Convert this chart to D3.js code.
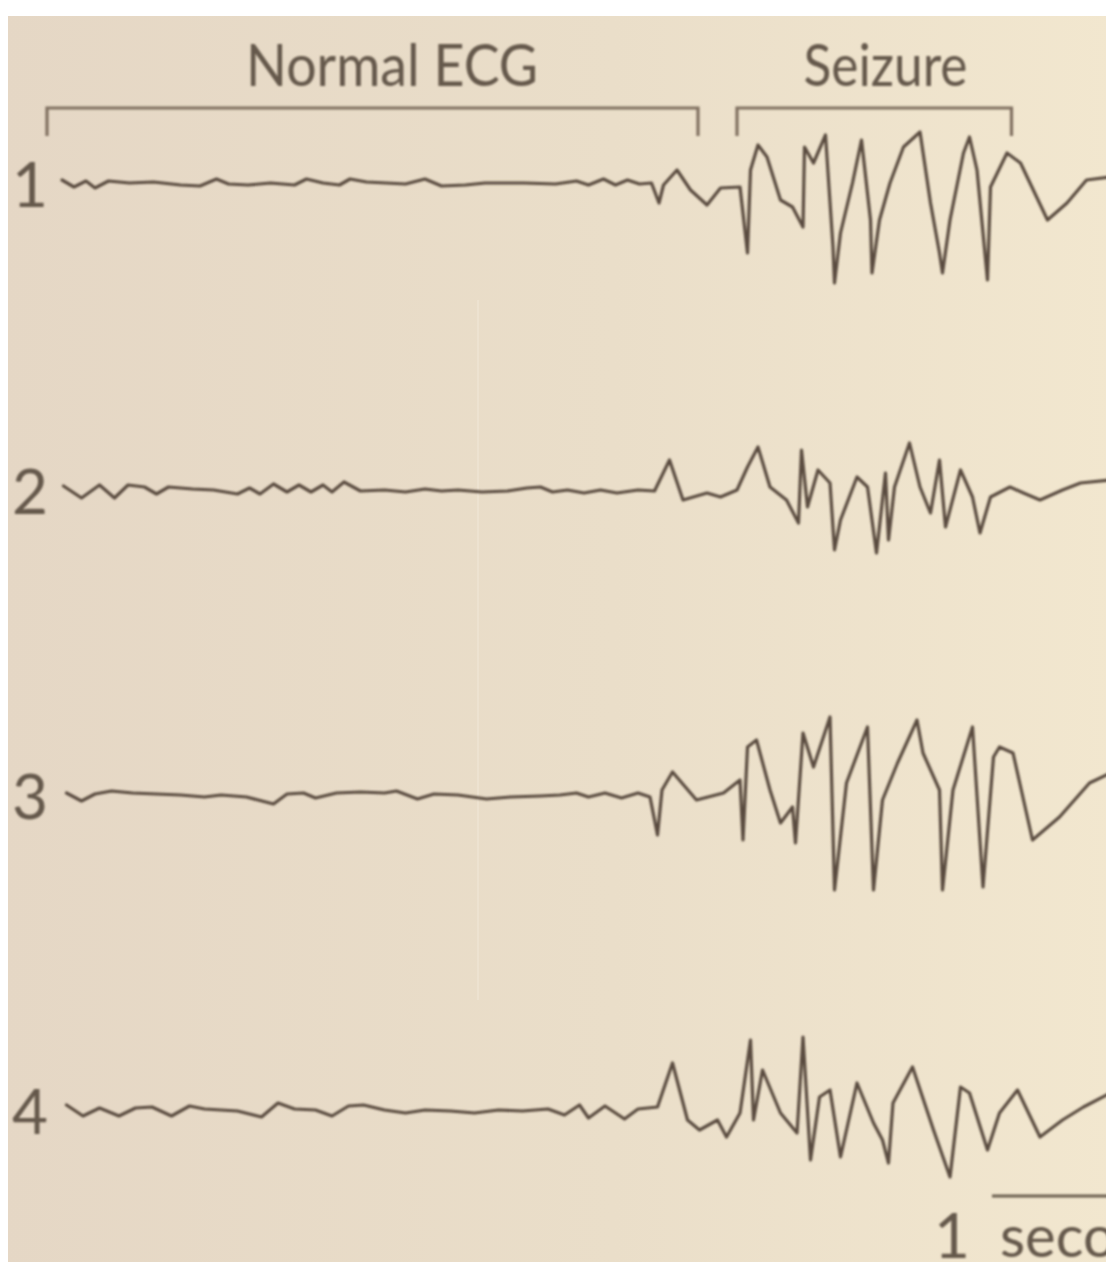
<!DOCTYPE html>
<html>
<head>
<meta charset="utf-8">
<title>Normal ECG / Seizure</title>
<style>
body { margin: 0; background: #ffffff; }
svg { display: block; }
</style>
</head>
<body>
<svg width="1114" height="1276"></svg>
<script src="https://d3js.org/d3.v7.min.js"></script>
<script>
// channel labels down the left side
var channels = ["1", "2", "3", "4"];

// section brackets along the top (time in seconds)
var sections = ["Normal ECG", "Seizure"];
var sectionStart = [-0.1, 4.5];
var sectionEnd = [4.24, 6.33];
var sectionLabelAt = [2.2, 5.49];

// traces: [time (s), amplitude]
var trace1 = [[0,3],[0.08,-4],[0.16,2],[0.22,-5],[0.31,2],[0.45,0],[0.61,1],[0.79,-2],[0.92,-3],[1.03,4],[1.11,-1],[1.24,-2],[1.39,0],[1.55,-2],[1.63,4],[1.74,0],[1.85,-2],[1.92,4],[2.03,1],[2.16,0],[2.29,-1],[2.42,4],[2.53,-3],[2.69,-2],[2.82,0],[3.08,0],[3.29,-1],[3.43,2],[3.51,-2],[3.61,4],[3.69,-2],[3.77,3],[3.85,-1],[3.93,0],[3.98,-20],[4.01,-2],[4.10,13],[4.19,-7],[4.30,-22],[4.39,-5],[4.52,-4],[4.57,-70],[4.59,13],[4.64,38],[4.70,26],[4.79,-17],[4.87,-24],[4.94,-44],[4.95,36],[5.01,20],[5.09,48],[5.14,-64],[5.15,-100],[5.19,-50],[5.27,0],[5.33,43],[5.39,-37],[5.40,-90],[5.45,-37],[5.52,0],[5.61,36],[5.72,51],[5.79,-20],[5.85,-70],[5.87,-90],[5.92,-37],[6.01,30],[6.05,46],[6.10,13],[6.17,-97],[6.19,-4],[6.30,30],[6.39,20],[6.57,-37],[6.70,-20],[6.83,3],[6.99,6]];
var trace2 = [[0.01,4],[0.13,-8],[0.25,5],[0.35,-8],[0.44,5],[0.55,3],[0.63,-4],[0.71,3],[0.87,1],[1.01,0],[1.17,-4],[1.25,2],[1.32,-4],[1.41,6],[1.50,-2],[1.58,5],[1.66,-2],[1.74,5],[1.80,-2],[1.88,8],[1.99,-1],[2.15,0],[2.29,-2],[2.42,1],[2.53,-1],[2.64,0],[2.80,-2],[2.97,-1],[3.10,2],[3.19,3],[3.27,-2],[3.37,0],[3.48,-3],[3.59,0],[3.70,-3],[3.84,0],[3.95,-1],[4.05,30],[4.14,-10],[4.30,-3],[4.39,-7],[4.50,0],[4.57,23],[4.64,43],[4.72,3],[4.83,-10],[4.91,-33],[4.93,40],[4.97,-17],[5.04,20],[5.12,7],[5.15,-60],[5.19,-30],[5.30,13],[5.37,3],[5.43,-63],[5.49,17],[5.51,-50],[5.55,3],[5.65,47],[5.72,3],[5.79,-23],[5.85,30],[5.89,-37],[5.99,20],[6.07,-7],[6.12,-43],[6.19,-7],[6.32,3],[6.41,-3],[6.52,-10],[6.67,0],[6.79,7],[6.99,10]];
var trace3 = [[0.03,2],[0.13,-6],[0.22,1],[0.33,4],[0.47,2],[0.63,1],[0.79,0],[0.95,-2],[1.06,0],[1.23,-2],[1.41,-9],[1.50,1],[1.61,2],[1.69,-3],[1.83,2],[1.99,3],[2.15,2],[2.23,4],[2.37,-4],[2.48,1],[2.64,0],[2.83,-4],[2.99,-2],[3.19,-1],[3.32,0],[3.43,2],[3.51,-2],[3.62,2],[3.73,-3],[3.84,2],[3.92,-2],[3.97,-40],[4.00,5],[4.07,23],[4.23,-5],[4.41,2],[4.52,15],[4.54,-45],[4.57,48],[4.63,55],[4.72,5],[4.79,-28],[4.87,-12],[4.89,-48],[4.94,62],[5.01,28],[5.12,78],[5.15,-95],[5.23,12],[5.37,68],[5.41,-95],[5.47,-5],[5.57,32],[5.67,65],[5.70,75],[5.74,42],[5.85,5],[5.87,-95],[5.94,5],[6.07,68],[6.14,-92],[6.21,38],[6.25,48],[6.34,42],[6.47,-45],[6.65,-22],[6.85,12],[6.99,22]];
var trace4 = [[0.03,5],[0.14,-6],[0.25,2],[0.38,-6],[0.49,2],[0.60,3],[0.73,-6],[0.85,4],[0.95,1],[1.06,0],[1.17,-1],[1.33,-7],[1.44,7],[1.55,1],[1.69,0],[1.80,-6],[1.91,4],[2.01,5],[2.15,0],[2.29,-3],[2.42,0],[2.59,-1],[2.75,-3],[2.91,0],[3.07,-1],[3.24,1],[3.35,-5],[3.45,5],[3.51,-8],[3.62,4],[3.75,-9],[3.84,1],[3.97,3],[4.07,47],[4.17,-10],[4.25,-20],[4.37,-10],[4.43,-27],[4.52,-3],[4.59,70],[4.61,-10],[4.67,40],[4.79,-3],[4.90,-23],[4.94,73],[4.99,-50],[5.05,13],[5.12,20],[5.19,-47],[5.30,27],[5.41,-13],[5.47,-30],[5.51,-53],[5.54,7],[5.67,43],[5.81,-20],[5.92,-67],[5.99,23],[6.05,17],[6.17,-40],[6.25,-3],[6.37,20],[6.52,-27],[6.67,-10],[6.81,3],[6.99,17]];

// 1 second scale bar
var scaleBarStart = 6.2;
var scaleBarLength = 1;

var traces = [trace1, trace2, trace3, trace4];
var baselines = [183, 490, 795, 1110];

var ink = "#5a4c3f";
var svg = d3.select("svg");
var defs = svg.append("defs");

// paper colour, a bit pinker on the left and yellower on the right
var grad = defs.append("linearGradient").attr("id", "paper")
    .attr("x1", 0).attr("x2", 1).attr("y1", 0).attr("y2", 0);
grad.append("stop").attr("offset", "0%").attr("stop-color", "#e5d7c5");
grad.append("stop").attr("offset", "55%").attr("stop-color", "#eadec9");
grad.append("stop").attr("offset", "100%").attr("stop-color", "#f2e7cf");

defs.append("clipPath").attr("id", "page")
  .append("rect").attr("x", 8).attr("y", 16).attr("width", 1098).attr("height", 1246);

defs.append("filter").attr("id", "soft")
  .append("feGaussianBlur").attr("stdDeviation", 0.8);

var page = svg.append("g").attr("clip-path", "url(#page)");

page.append("rect")
    .attr("x", 0).attr("y", 0).attr("width", 1114).attr("height", 1276)
    .attr("fill", "url(#paper)");

// faint fold line in the paper
page.append("line")
    .attr("x1", 478).attr("x2", 478).attr("y1", 300).attr("y2", 1000)
    .attr("stroke", "#f3eadb").attr("stroke-width", 2).attr("opacity", 0.45);

var x = d3.scaleLinear().domain([0, 7]).range([62, 1112]);

var ink_g = page.append("g").attr("filter", "url(#soft)");

// brackets and section titles
sections.forEach(function(name, i) {
    var x0 = x(sectionStart[i]), x1 = x(sectionEnd[i]);
    ink_g.append("path")
        .attr("d", "M" + x0 + ",136V108H" + x1 + "V136")
        .attr("fill", "none")
        .attr("stroke", "#807061")
        .attr("stroke-width", 3.2);
    ink_g.append("text")
        .attr("x", x(sectionLabelAt[i]))
        .attr("y", 86)
        .attr("text-anchor", "middle")
        .attr("font-family", "Lato, 'Open Sans', sans-serif")
        .attr("font-size", 58)
        .attr("textLength", i == 0 ? 292 : 164)
        .attr("lengthAdjust", "spacingAndGlyphs")
        .attr("fill", "#65584b")
        .text(name);
});

// the four traces
var line = d3.line();
traces.forEach(function(tr, i) {
    var y = d3.scaleLinear().domain([-100, 100]).range([baselines[i] + 100, baselines[i] - 100]);
    line.x(function(d) { return x(d[0]); }).y(function(d) { return y(d[1]); });
    ink_g.append("path")
        .datum(tr)
        .attr("d", line)
        .attr("fill", "none")
        .attr("stroke", ink)
        .attr("stroke-width", 3.2)
        .attr("stroke-linejoin", "round")
        .attr("stroke-linecap", "round");
    ink_g.append("text")
        .attr("x", 30)
        .attr("y", baselines[i] + 24)
        .attr("text-anchor", "middle")
        .attr("font-family", "Lato, 'Open Sans', sans-serif")
        .attr("font-size", 62)
        .attr("fill", "#65584b")
        .text(channels[i]);
});

// scale bar
ink_g.append("line")
    .attr("x1", x(scaleBarStart)).attr("x2", x(scaleBarStart + scaleBarLength))
    .attr("y1", 1196).attr("y2", 1196)
    .attr("stroke", "#6a5e50").attr("stroke-width", 3.2);
ink_g.append("text")
    .attr("x", x(scaleBarStart) - 22).attr("y", 1258)
    .attr("text-anchor", "end")
    .attr("font-family", "Lato, 'Open Sans', sans-serif")
    .attr("font-size", 62)
    .attr("fill", "#65584b")
    .text("1");
ink_g.append("text")
    .attr("x", x(scaleBarStart) + 8).attr("y", 1257)
    .attr("font-family", "Lato, 'Open Sans', sans-serif")
    .attr("font-size", 58)
    .attr("fill", "#65584b")
    .text("second");
</script>
</body>
</html>
